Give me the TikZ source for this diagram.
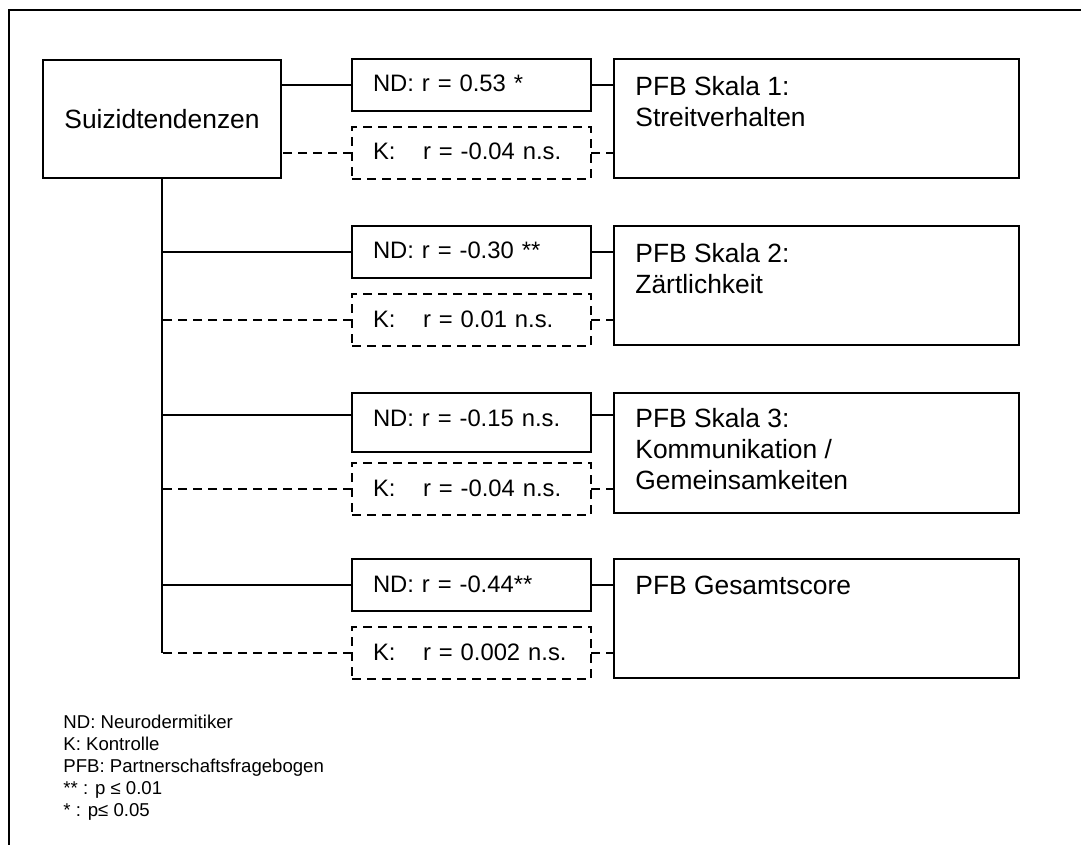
\documentclass[tikz,border=0pt]{standalone}
\usepackage{fontspec}
\setmainfont{Liberation Sans}
\usetikzlibrary{positioning}

\tikzset{
  conn/.style={line width=1pt},
  dashline/.style={line width=1pt, dash pattern=on 4.5pt off 3pt},
  ndbox/.style={draw, line width=1pt, anchor=north west, outer sep=0pt,
    inner xsep=10.5pt, inner ysep=0pt, text width=98.5pt, align=left,
    text height=16.5pt, text depth=9.5pt, font=\fontsize{11.9}{14}\selectfont},
  kbox/.style={ndbox, dash pattern=on 4.5pt off 3pt},
  pfbbox/.style={draw, line width=1pt, anchor=north west, outer sep=0pt,
    inner sep=0pt, minimum width=202.5pt, minimum height=59.5pt},
  pfbtext/.style={inner sep=0pt, align=left, font=\fontsize{13.2}{15.5}\selectfont}
}

\begin{document}
\begin{tikzpicture}[x=0.5pt, y=-0.5pt]
\useasboundingbox (0,0) rectangle (1081,845);
\draw[line width=1pt] (9,845) -- (9,10) -- (1081,10);

\node[draw, line width=1pt, anchor=north west, outer sep=0pt, inner sep=0pt,
  minimum width=119pt, minimum height=59pt, font=\fontsize{13.2}{15.5}\selectfont]
  (sz) at (43,60) {Suizidtendenzen};

% Skala 1
\node[ndbox] (n1) at (352,59) {ND: r = 0.53 *};
\node[kbox] (k1) at (352,127) {\makebox[25pt][l]{K:}r = -0.04 n.s.};
\node[pfbbox] (p1) at (614,59) {};
\node[pfbtext, below right=8.4pt and 10.5pt of p1.north west] (t1) {PFB Skala 1:\\Streitverhalten};

% Skala 2
\node[ndbox] (n2) at (352,226) {ND: r = -0.30 **};
\node[kbox] (k2) at (352,294) {\makebox[25pt][l]{K:}r = 0.01 n.s.};
\node[pfbbox] (p2) at (614,226) {};
\node[pfbtext, below right=8.4pt and 10.5pt of p2.north west] (t2) {PFB Skala 2:\\Zärtlichkeit};

% Skala 3
\node[ndbox, text depth=13pt] (n3) at (352,393) {ND: r = -0.15 n.s.};
\node[kbox] (k3) at (352,463) {\makebox[25pt][l]{K:}r = -0.04 n.s.};
\node[pfbbox, minimum height=60pt] (p3) at (614,393) {};
\node[pfbtext, below right=7.6pt and 10.5pt of p3.north west] (t3) {PFB Skala 3:\\Kommunikation /\\Gemeinsamkeiten};
\coordinate (n3w) at ([yshift=-11pt]n3.north west);
\coordinate (n3e) at ([yshift=-11pt]n3.north east);

% Gesamtscore
\node[ndbox] (n4) at (352,559) {ND: r = -0.44**};
\node[kbox] (k4) at (352,627) {\makebox[25pt][l]{K:}r = 0.002 n.s.};
\node[pfbbox] (p4) at (614,559) {};
\node[pfbtext, below right=8.4pt and 10.5pt of p4.north west] (t4) {PFB Gesamtscore};

% Verbindungen
\draw[conn] (n1.west) -- (n1.west -| sz.east);
\draw[dashline] (k1.west) -- (k1.west -| sz.east);
\draw[conn] (sz.south) -- (sz.south |- k4.west);
\draw[conn] (n2.west) -- (n2.west -| sz.south);
\draw[dashline] (k2.west) -- (k2.west -| sz.south);
\draw[conn] (n3w) -- (n3w -| sz.south);
\draw[dashline] (k3.west) -- (k3.west -| sz.south);
\draw[conn] (n4.west) -- (n4.west -| sz.south);
\draw[dashline] (k4.west) -- (k4.west -| sz.south);

\draw[conn] (n1.east) -- (n1.east -| p1.west);
\draw[dashline] (k1.east) -- (k1.east -| p1.west);
\draw[conn] (n2.east) -- (n2.east -| p2.west);
\draw[dashline] (k2.east) -- (k2.east -| p2.west);
\draw[conn] (n3e) -- (n3e -| p3.west);
\draw[dashline] (k3.east) -- (k3.east -| p3.west);
\draw[conn] (n4.east) -- (n4.east -| p4.west);
\draw[dashline] (k4.east) -- (k4.east -| p4.west);

\node[anchor=north west, inner sep=0pt, align=left, font=\fontsize{9.3}{11}\selectfont]
  (legende) at (63,715) {ND: Neurodermitiker\\K: Kontrolle\\PFB: Partnerschaftsfragebogen\\** : p ≤ 0.01\\* : p≤ 0.05};
\end{tikzpicture}
\end{document}
